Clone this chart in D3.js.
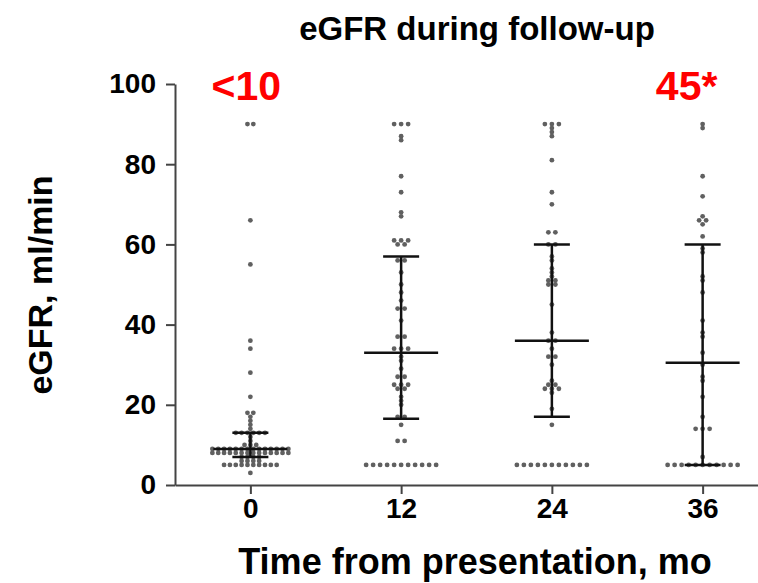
<!DOCTYPE html>
<html>
<head>
<meta charset="utf-8">
<script src="https://cdn.jsdelivr.net/npm/d3@7"></script>
<style>
  html, body { margin: 0; padding: 0; background: #fff; }
  svg { display: block; }
  text { font-family: "Liberation Sans", Arial, sans-serif; font-weight: bold; }
</style>
</head>
<body>
<svg id="chart" width="758" height="583"></svg>
<script>
// 経過月ごとの eGFR 値
const months = [0, 12, 24, 36];

const egfr0 = [90, 90, 66, 55, 36, 34, 28, 22, 18, 18, 17, 16, 15, 14,
  13, 13, 13, 13, 13, 13, 12, 11, 10, 10, 10,
  9, 9, 9, 9, 9, 9, 9, 9, 9, 9, 9, 9, 9, 9,
  8, 8, 8, 8, 8, 8, 8, 8, 8, 8, 8, 8, 8, 8,
  7, 7, 7, 7, 6, 6, 6, 6,
  5, 5, 5, 5, 5, 5, 5, 5, 5, 5, 3];
const egfr12 = [90, 90, 90, 87, 86, 77, 73, 68, 67, 61, 61, 61, 60, 60, 56, 56,
  53, 50, 48, 46, 44, 44, 41, 37, 37, 34, 34, 34, 32, 31, 29, 27, 27,
  25, 25, 25, 24, 24, 22, 21, 20, 17, 17, 15, 11, 11,
  5, 5, 5, 5, 5, 5, 5, 5, 5, 5, 5];
const egfr24 = [90, 90, 90, 89, 88, 87, 81, 73, 70, 63, 63, 60, 60, 57, 56, 54,
  53, 52, 51, 51, 50, 50, 45, 38, 36, 36, 34, 32, 32, 30, 26, 25, 25,
  24, 24, 24, 23, 19, 15,
  5, 5, 5, 5, 5, 5, 5, 5, 5, 5, 5];
const egfr36 = [90, 89, 77, 72, 67, 66, 66, 65, 62, 59, 58, 52, 51, 48, 41, 38,
  37, 33, 30, 27, 26, 22, 17, 14, 14, 14, 7,
  5, 5, 5, 5, 5, 5, 5, 5, 5, 5, 5];

// 中央値と四分位（図の誤差棒から）
const medians = [9, 33, 36, 30.5];
const q1 = [7, 16.5, 17, 5];
const q3 = [13, 57, 60, 60];

const yTicks = [0, 20, 40, 60, 80, 100];
const notes = ["<10", "", "", "45*"];

const series = [egfr0, egfr12, egfr24, egfr36];

const svg = d3.select("#chart");

const x = d3.scaleLinear().domain([-6, 42]).range([175, 778]);
const y = d3.scaleLinear().domain([0, 100]).range([485, 84]);

const axisColor = "#444";

// 点の配置：同じ値は横に並べる
const dots = [];
series.forEach((vals, gi) => {
  const rows = d3.group(vals, v => v);
  const maxRow = d3.max(Array.from(rows.values(), r => r.length));
  const step = maxRow > 1 ? Math.min(7, 76 / (maxRow - 1)) : 7;
  rows.forEach((r, v) => {
    r.forEach((_, i) => {
      dots.push({ g: gi, v: v, dx: (i - (r.length - 1) / 2) * step });
    });
  });
});

svg.append("g")
  .selectAll("circle")
  .data(dots)
  .join("circle")
  .attr("cx", d => x(months[d.g]) + d.dx)
  .attr("cy", d => y(d.v))
  .attr("r", 2.4)
  .attr("fill", "#606060");

// 誤差棒
const bars = svg.append("g")
  .attr("stroke", "#111")
  .attr("stroke-width", 2.5);

months.forEach((m, i) => {
  const cx = x(m);
  bars.append("line")
    .attr("x1", cx).attr("x2", cx)
    .attr("y1", y(q1[i])).attr("y2", y(q3[i]));
  bars.append("line")
    .attr("x1", cx - 37).attr("x2", cx + 37)
    .attr("y1", y(medians[i])).attr("y2", y(medians[i]));
  [q1[i], q3[i]].forEach(q => {
    bars.append("line")
      .attr("x1", cx - 18).attr("x2", cx + 18)
      .attr("y1", y(q)).attr("y2", y(q));
  });
});

// 軸
const yAxis = svg.append("g")
  .attr("transform", "translate(175,0)")
  .call(d3.axisLeft(y).tickValues(yTicks).tickSize(9).tickPadding(10).tickSizeOuter(0));

const xAxis = svg.append("g")
  .attr("transform", "translate(0,485)")
  .call(d3.axisBottom(x).tickValues(months).tickSize(9).tickPadding(4).tickSizeOuter(0));

[yAxis, xAxis].forEach(a => {
  a.select(".domain").attr("stroke", axisColor).attr("stroke-width", 2);
  a.selectAll(".tick line").attr("stroke", axisColor).attr("stroke-width", 2);
  a.selectAll(".tick text")
    .attr("fill", "#000")
    .style("font-size", "28px")
    .style("font-family", "'Liberation Sans', Arial, sans-serif")
    .style("font-weight", "bold");
});

// タイトル類
svg.append("text")
  .attr("x", 477).attr("y", 40)
  .attr("text-anchor", "middle")
  .style("font-size", "33px")
  .text("eGFR during follow-up");

svg.append("text")
  .attr("x", 475).attr("y", 574)
  .attr("text-anchor", "middle")
  .style("font-size", "36px")
  .text("Time from presentation, mo");

svg.append("text")
  .attr("transform", "translate(52,285) rotate(-90)")
  .attr("text-anchor", "middle")
  .style("font-size", "34px")
  .text("eGFR, ml/min");

svg.append("g")
  .selectAll("text")
  .data(months.map((m, i) => ({ m, t: notes[i] })).filter(d => d.t))
  .join("text")
  .attr("x", d => x(d.m) + (d.m === 0 ? -4 : -16))
  .attr("y", 100)
  .attr("text-anchor", "middle")
  .attr("fill", "#ff0000")
  .style("font-size", "41px")
  .text(d => d.t);
</script>
</body>
</html>
